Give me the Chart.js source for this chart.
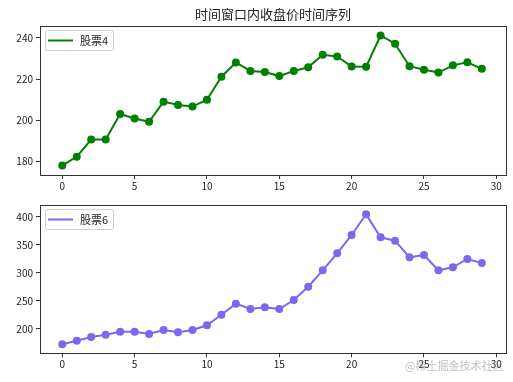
<!DOCTYPE html>
<html>
<head>
<meta charset="utf-8">
<script src="https://cdn.jsdelivr.net/npm/chart.js@4/dist/chart.umd.min.js"></script>
<style>
html,body{margin:0;padding:0;background:#fff;}
#wrap{position:relative;width:513px;height:382px;overflow:hidden;font-family:"Noto Sans CJK SC","Noto Sans",sans-serif;}
#c1{position:absolute;left:0;top:0;}
#c2{position:absolute;left:0;top:190px;}
#title{position:absolute;left:40px;width:466px;top:5px;text-align:center;font-size:13px;color:#222;line-height:18px;}
#wm{position:absolute;left:405px;top:357px;font-size:11px;color:rgba(140,140,140,0.55);white-space:nowrap;}
</style>
</head>
<body>
<div id="wrap">
<canvas id="c1" width="513" height="190"></canvas>
<canvas id="c2" width="513" height="192"></canvas>
<div id="title">时间窗口内收盘价时间序列</div>
<div id="wm">@稀土掘金技术社区</div>
</div>
<script>
const titleText = "时间窗口内收盘价时间序列";
const days = [0,1,2,3,4,5,6,7,8,9,10,11,12,13,14,15,16,17,18,19,20,21,22,23,24,25,26,27,28,29];
const stock4 = [178.1,182.4,190.7,190.7,203.1,200.9,199.3,209.1,207.5,206.7,210.0,221.2,228.1,224.0,223.5,221.5,224.0,225.8,231.8,231.0,226.1,226.0,241.2,237.2,226.3,224.6,223.2,226.7,228.2,225.0];
const stock6 = [172.7,179.1,185.7,189.8,195.2,195.2,191.0,198.2,194.0,198.2,206.6,225.5,245.2,235.7,238.7,235.7,251.8,275.5,304.8,335.2,367.9,404.8,363.7,357.7,328.0,332.1,304.8,310.1,325.0,317.9];
const label4 = "股票4";
const label6 = "股票6";
const xTicks = [0,5,10,15,20,25,30];
const yTicks4 = [180,200,220,240];
const yTicks6 = [200,250,300,350,400];

const FONT = {family:'"Noto Sans CJK SC","Noto Sans",sans-serif', size:10};

const framePlugin = {
  id:'frame',
  afterDraw(chart){
    const a = chart.chartArea, ctx = chart.ctx;
    ctx.save();
    ctx.strokeStyle = '#333';
    ctx.lineWidth = 1;
    ctx.strokeRect(Math.round(a.left)+0.5, Math.round(a.top)+0.5, Math.round(a.right-a.left), Math.round(a.bottom-a.top));
    // legend
    const ds = chart.data.datasets[0];
    const bx = a.left + 5, by = a.top + 4, bw = 68, bh = 20;
    ctx.fillStyle = 'rgba(255,255,255,0.85)';
    ctx.strokeStyle = '#d0d0d0';
    ctx.lineWidth = 1;
    ctx.beginPath();
    if (ctx.roundRect) ctx.roundRect(bx+0.5, by+0.5, bw, bh, 2); else ctx.rect(bx+0.5, by+0.5, bw, bh);
    ctx.fill(); ctx.stroke();
    ctx.strokeStyle = ds.borderColor;
    ctx.lineWidth = 2;
    ctx.beginPath();
    ctx.moveTo(bx+3, by+bh/2+0.5);
    ctx.lineTo(bx+28, by+bh/2+0.5);
    ctx.stroke();
    ctx.fillStyle = '#222';
    ctx.font = '11px ' + FONT.family;
    ctx.textBaseline = 'middle';
    ctx.fillText(ds.label, bx+35, by+bh/2+1);
    ctx.restore();
  }
};

function makeChart(id, data, label, color, yTicks, ymin, ymax, xAxisH, padTop){
  return new Chart(document.getElementById(id), {
    type:'line',
    data:{
      datasets:[{
        label: label,
        data: days.map((d,i)=>({x:d, y:data[i]})),
        borderColor: color,
        backgroundColor: color,
        pointBackgroundColor: color,
        pointBorderColor: color,
        pointRadius: 4,
        pointBorderWidth: 0,
        borderWidth: 2,
        tension: 0
      }]
    },
    options:{
      responsive:false,
      animation:false,
      layout:{padding:{left:0,right:7,top:padTop,bottom:0}},
      plugins:{legend:{display:false}, title:{display:false}, tooltip:{enabled:false}},
      scales:{
        x:{
          type:'linear', min:-1.54, max:30.67,
          afterBuildTicks(s){ s.ticks = xTicks.map(v=>({value:v})); },
          afterFit(s){ s.height = xAxisH; },
          grid:{display:true, drawOnChartArea:false, drawTicks:true, tickLength:4, color:'#333'},
          border:{display:false},
          ticks:{font:FONT, color:'#222', padding:1, maxRotation:0, callback:v=>String(v)}
        },
        y:{
          type:'linear', min:ymin, max:ymax,
          afterBuildTicks(s){ s.ticks = yTicks.map(v=>({value:v})); },
          afterFit(s){ s.width = 40; },
          grid:{display:true, drawOnChartArea:false, drawTicks:true, tickLength:4, color:'#333'},
          border:{display:false},
          ticks:{font:FONT, color:'#222', padding:3, callback:v=>String(v)}
        }
      }
    },
    plugins:[framePlugin]
  });
}

makeChart('c1', stock4, label4, '#008000', yTicks4, 173.5, 245.8, 15, 26);
makeChart('c2', stock6, label6, '#7B68EE', yTicks6, 156.6, 421.4, 28.7, 15);
</script>
</body>
</html>
